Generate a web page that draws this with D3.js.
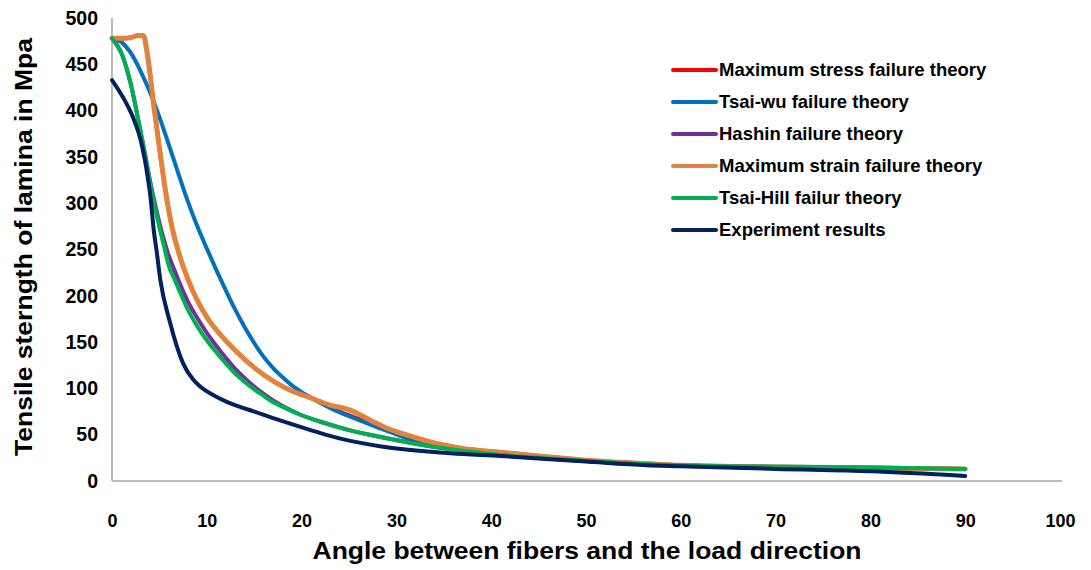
<!DOCTYPE html>
<html>
<head>
<meta charset="utf-8">
<script src="https://cdn.jsdelivr.net/npm/d3@7"></script>
<style>
  html, body { margin: 0; padding: 0; background: #fff; }
  svg { display: block; }
  text { font-family: "Liberation Sans", Arial, sans-serif; font-weight: bold; fill: #000; }
</style>
</head>
<body>
<svg id="chart" width="1091" height="570"></svg>
<script>
// Tensile strength of a lamina (MPa) against fibre angle (degrees)
const seriesNames = [
  "Maximum stress failure theory",
  "Tsai-wu failure theory",
  "Hashin failure theory",
  "Maximum strain failure theory",
  "Tsai-Hill failur theory",
  "Experiment results"
];
const seriesColors = ["#ff0000", "#0070c0", "#7030a0", "#e2823c", "#00b050", "#002060"];

// [angle, strength] pairs for each series
const maxStress = [[0,478],[1,478],[2,479],[2.8,481],[3.3,481],[3.8,456],[4.4,406],[5,360],[5.8,303],[6.4,271],[7,248],[8,218],[9,195],[10,177],[11.7,155],[13,141],[15.3,120],[18.8,98],[20.9,90],[23,80],[24,75],[25.8,68],[27.5,61],[29,56],[31,50],[34,41],[37,35],[41,31],[45,27],[50,22.5],[55,19.5],[60,17],[70,15],[80,14],[90,13]];
const tsaiWu = [[0,478],[1,474],[2,462],[3,443],[4,420],[5,393],[6,363],[7,332],[8,302],[9,275],[10,251],[11,228],[12,206],[13,185],[14,166],[15,149],[16,134],[17,122],[18,112],[19,103],[20,96],[21,90],[23,79],[25,70],[26,66],[28,58],[29.3,53],[32,43],[36,35],[41,28],[45,25],[50,21.5],[55,19],[60,17],[70,15],[80,14],[90,13]];
const hashin = [[0,478],[0.5,471],[1,462],[1.5,447],[2,428],[2.5,404],[3,378],[3.5,352],[4,325],[4.5,301],[5,279],[5.5,260],[6,243],[6.5,230],[7,217],[8,194],[9,176],[10,160],[11,146],[12,133],[13,121],[14,111],[15,102],[16,94],[17,87],[18,81],[20,71],[22,64],[25,55],[28.6,47],[33.9,37],[41,28],[45,25],[50,21.5],[55,19],[60,17],[70,15.5],[80,14.5],[90,13]];
const maxStrain = [[0,478],[1,478],[2,479],[2.8,481],[3.3,481],[3.8,456],[4.4,406],[5,360],[5.8,303],[6.4,271],[7,248],[8,218],[9,195],[10,177],[11.7,155],[13,141],[15.3,120],[18.8,98],[20.9,90],[23,82],[25,77],[27.2,66],[29,57],[31,50],[34,41],[37,35],[41,31],[45,27],[50,22.5],[55,19.5],[60,17],[70,15],[80,14],[90,13]];
const tsaiHill = [[0,478],[0.5,471],[1,462],[1.5,447],[2,428],[2.5,404],[3,378],[3.5,352],[4,323],[4.5,297],[5,274],[5.5,253],[6,232],[6.5,220],[7,208],[8,185],[9,167],[10,152],[11,139],[12,127],[13,116],[14,107],[15,99],[16,92],[17,85],[18,80],[20,71],[22,64],[25,55],[28.6,47],[33.9,37],[41,28],[45,25],[50,21.5],[55,19],[60,17],[70,15.5],[80,14.5],[90,13]];
const experiment = [[0,433],[1.4,410],[2.2,393],[3,369],[3.8,326],[4.1,303],[4.4,271],[4.7,249],[5.1,217],[6.1,172],[7.5,127],[8.6,109],[9.3,102],[11,91],[12,86],[13.5,80],[15,75],[17,68],[18.8,62],[21.6,53],[24,46],[28.6,37],[35.7,30],[41,27],[50,21],[56.4,17],[60,16],[70,13],[80,10.5],[90,5.5]];

const seriesData = [maxStress, tsaiWu, hashin, maxStrain, tsaiHill, experiment];
const seriesWidths = [4, 4, 4, 5, 4, 4];

const xTicks = [0, 10, 20, 30, 40, 50, 60, 70, 80, 90, 100];
const yTicks = [0, 50, 100, 150, 200, 250, 300, 350, 400, 450, 500];
const xTitle = "Angle between fibers and the load direction";
const yTitle = "Tensile sterngth of lamina in Mpa";

const svg = d3.select("#chart");
const plot = { left: 112, right: 1060, top: 18, bottom: 481 };

const x = d3.scaleLinear().domain([0, 100]).range([plot.left, plot.right]);
const y = d3.scaleLinear().domain([0, 500]).range([plot.bottom, plot.top]);

// axes: plain grey lines with bold labels, no tick marks
const xAxis = d3.axisBottom(x).tickValues(xTicks).tickSize(0).tickPadding(0);
const gx = svg.append("g").attr("transform", `translate(0,${plot.bottom})`).call(xAxis);
gx.select(".domain").attr("stroke", "#a6a6a6").attr("stroke-width", 1.5)
  .attr("d", `M${plot.left},0H${plot.right + 2}`);
gx.selectAll(".tick text")
  .attr("dy", null).attr("y", 46)
  .style("font-family", "'Liberation Sans', Arial, sans-serif")
  .style("font-weight", "bold").style("font-size", "18px").attr("fill", "#000");

const yAxis = d3.axisLeft(y).tickValues(yTicks).tickSize(0).tickPadding(14);
const gy = svg.append("g").attr("transform", `translate(${plot.left},0)`).call(yAxis);
gy.select(".domain").attr("stroke", "#a6a6a6").attr("stroke-width", 1.5)
  .attr("d", `M0,${plot.top}V${plot.bottom}`);
gy.selectAll(".tick text")
  .style("font-family", "'Liberation Sans', Arial, sans-serif")
  .style("font-weight", "bold").style("font-size", "19.5px").attr("fill", "#000");

// axis titles
svg.append("text")
  .attr("x", 587).attr("y", 559)
  .attr("text-anchor", "middle")
  .attr("textLength", 549).attr("lengthAdjust", "spacingAndGlyphs")
  .style("font-size", "24px")
  .text(xTitle);

svg.append("text")
  .attr("transform", "translate(32,247) rotate(-90)")
  .attr("text-anchor", "middle")
  .attr("textLength", 418).attr("lengthAdjust", "spacingAndGlyphs")
  .style("font-size", "24px")
  .text(yTitle);

// series lines, drawn in legend order
const line = d3.line()
  .x(d => x(d[0]))
  .y(d => y(d[1]))
  .curve(d3.curveMonotoneX);

svg.append("g").selectAll("path")
  .data(seriesData)
  .join("path")
  .attr("d", line)
  .attr("fill", "none")
  .attr("stroke", (d, i) => seriesColors[i])
  .attr("stroke-width", (d, i) => seriesWidths[i])
  .attr("stroke-linecap", "round")
  .attr("stroke-linejoin", "round");

// legend
const legend = svg.append("g").attr("transform", "translate(673,70)");
const rows = legend.selectAll("g")
  .data(seriesNames)
  .join("g")
  .attr("transform", (d, i) => `translate(0,${i * 32})`);
rows.append("line")
  .attr("x1", 0).attr("x2", 43)
  .attr("stroke", (d, i) => seriesColors[i])
  .attr("stroke-width", 4)
  .attr("stroke-linecap", "round");
rows.append("text")
  .attr("x", 46).attr("dy", "0.35em")
  .style("font-size", "18.5px")
  .text(d => d);
</script>
</body>
</html>
